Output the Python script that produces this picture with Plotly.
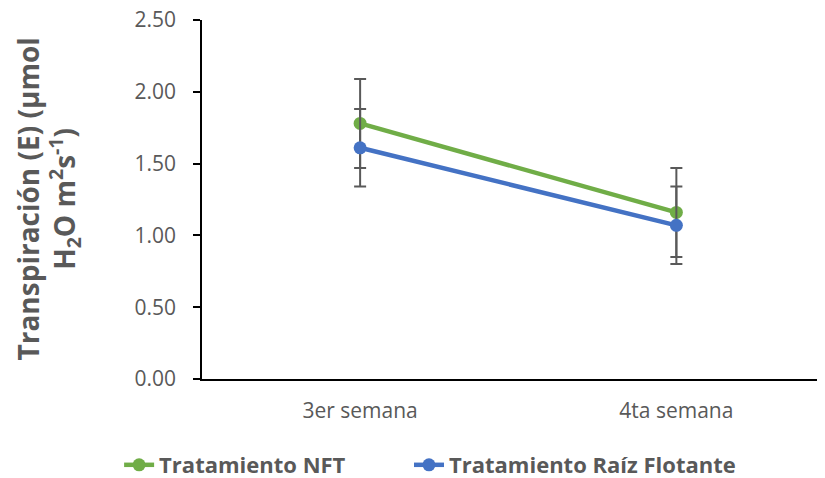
import plotly.graph_objects as go

categories = ["3er semana", "4ta semana"]
nft_values = [1.78, 1.16]
nft_err = [0.31, 0.31]
raiz_values = [1.61, 1.07]
raiz_err = [0.27, 0.27]
y_ticks = [0, 0.5, 1.0, 1.5, 2.0, 2.5]

FONT = "Open Sans"
GRAY = "#595959"

fig = go.Figure()
fig.add_trace(go.Scatter(
    x=categories, y=nft_values, name="<b>Tratamiento NFT</b>", mode="lines+markers",
    line=dict(color="#70AD47", width=4.5), marker=dict(size=13, color="#70AD47"),
    error_y=dict(type="data", array=nft_err, visible=True, color=GRAY, thickness=2, width=6),
    legend="legend",
))
fig.add_trace(go.Scatter(
    x=categories, y=raiz_values, name="<b>Tratamiento Raíz Flotante</b>", mode="lines+markers",
    line=dict(color="#4472C4", width=4.5), marker=dict(size=13, color="#4472C4"),
    error_y=dict(type="data", array=raiz_err, visible=True, color=GRAY, thickness=2, width=6),
    legend="legend2",
))

legend_common = dict(orientation="h", xref="container", yref="paper", y=-0.2396,
                     xanchor="left", yanchor="middle",
                     font=dict(size=22, color=GRAY, family=FONT),
                     bgcolor="rgba(0,0,0,0)")

# page body adds an 8px offset, so the figure is 817x470
fig.update_layout(
    width=817, height=470,
    margin=dict(l=194, r=0, t=12, b=99, autoexpand=False),
    plot_bgcolor="white", paper_bgcolor="white",
    font=dict(family=FONT, color=GRAY, size=21),
    showlegend=True,
    legend=dict(x=0.136, **legend_common),
    legend2=dict(x=0.4908, **legend_common),
    xaxis=dict(type="category", range=[-0.5, 1.47], showgrid=False,
               showline=True, linecolor="#000000", linewidth=1.5,
               ticks="", ticklabelstandoff=12, tickfont=dict(size=21, color=GRAY)),
    yaxis=dict(range=[0, 2.5], tickvals=y_ticks, tickformat=".2f", showgrid=False,
               showline=True, linecolor="#000000", linewidth=1.5,
               ticks="outside", ticklen=7, tickcolor="#000000",
               tickwidth=1.5, zeroline=False, ticklabelstandoff=13,
               ticklabeloverflow="allow",
               tickfont=dict(size=21, color=GRAY)),
    annotations=[dict(
        text="<b>Transpiración (E) (µmol<br>H<sub>2</sub>O m<sup>2</sup>s<sup>-1</sup>)</b>",
        xref="paper", yref="paper", x=0, y=0.5, xshift=-155, xanchor="center", yanchor="middle",
        textangle=-90, showarrow=False, font=dict(size=28, color=GRAY, family=FONT),
    )],
)

fig.write_html("out.html")
